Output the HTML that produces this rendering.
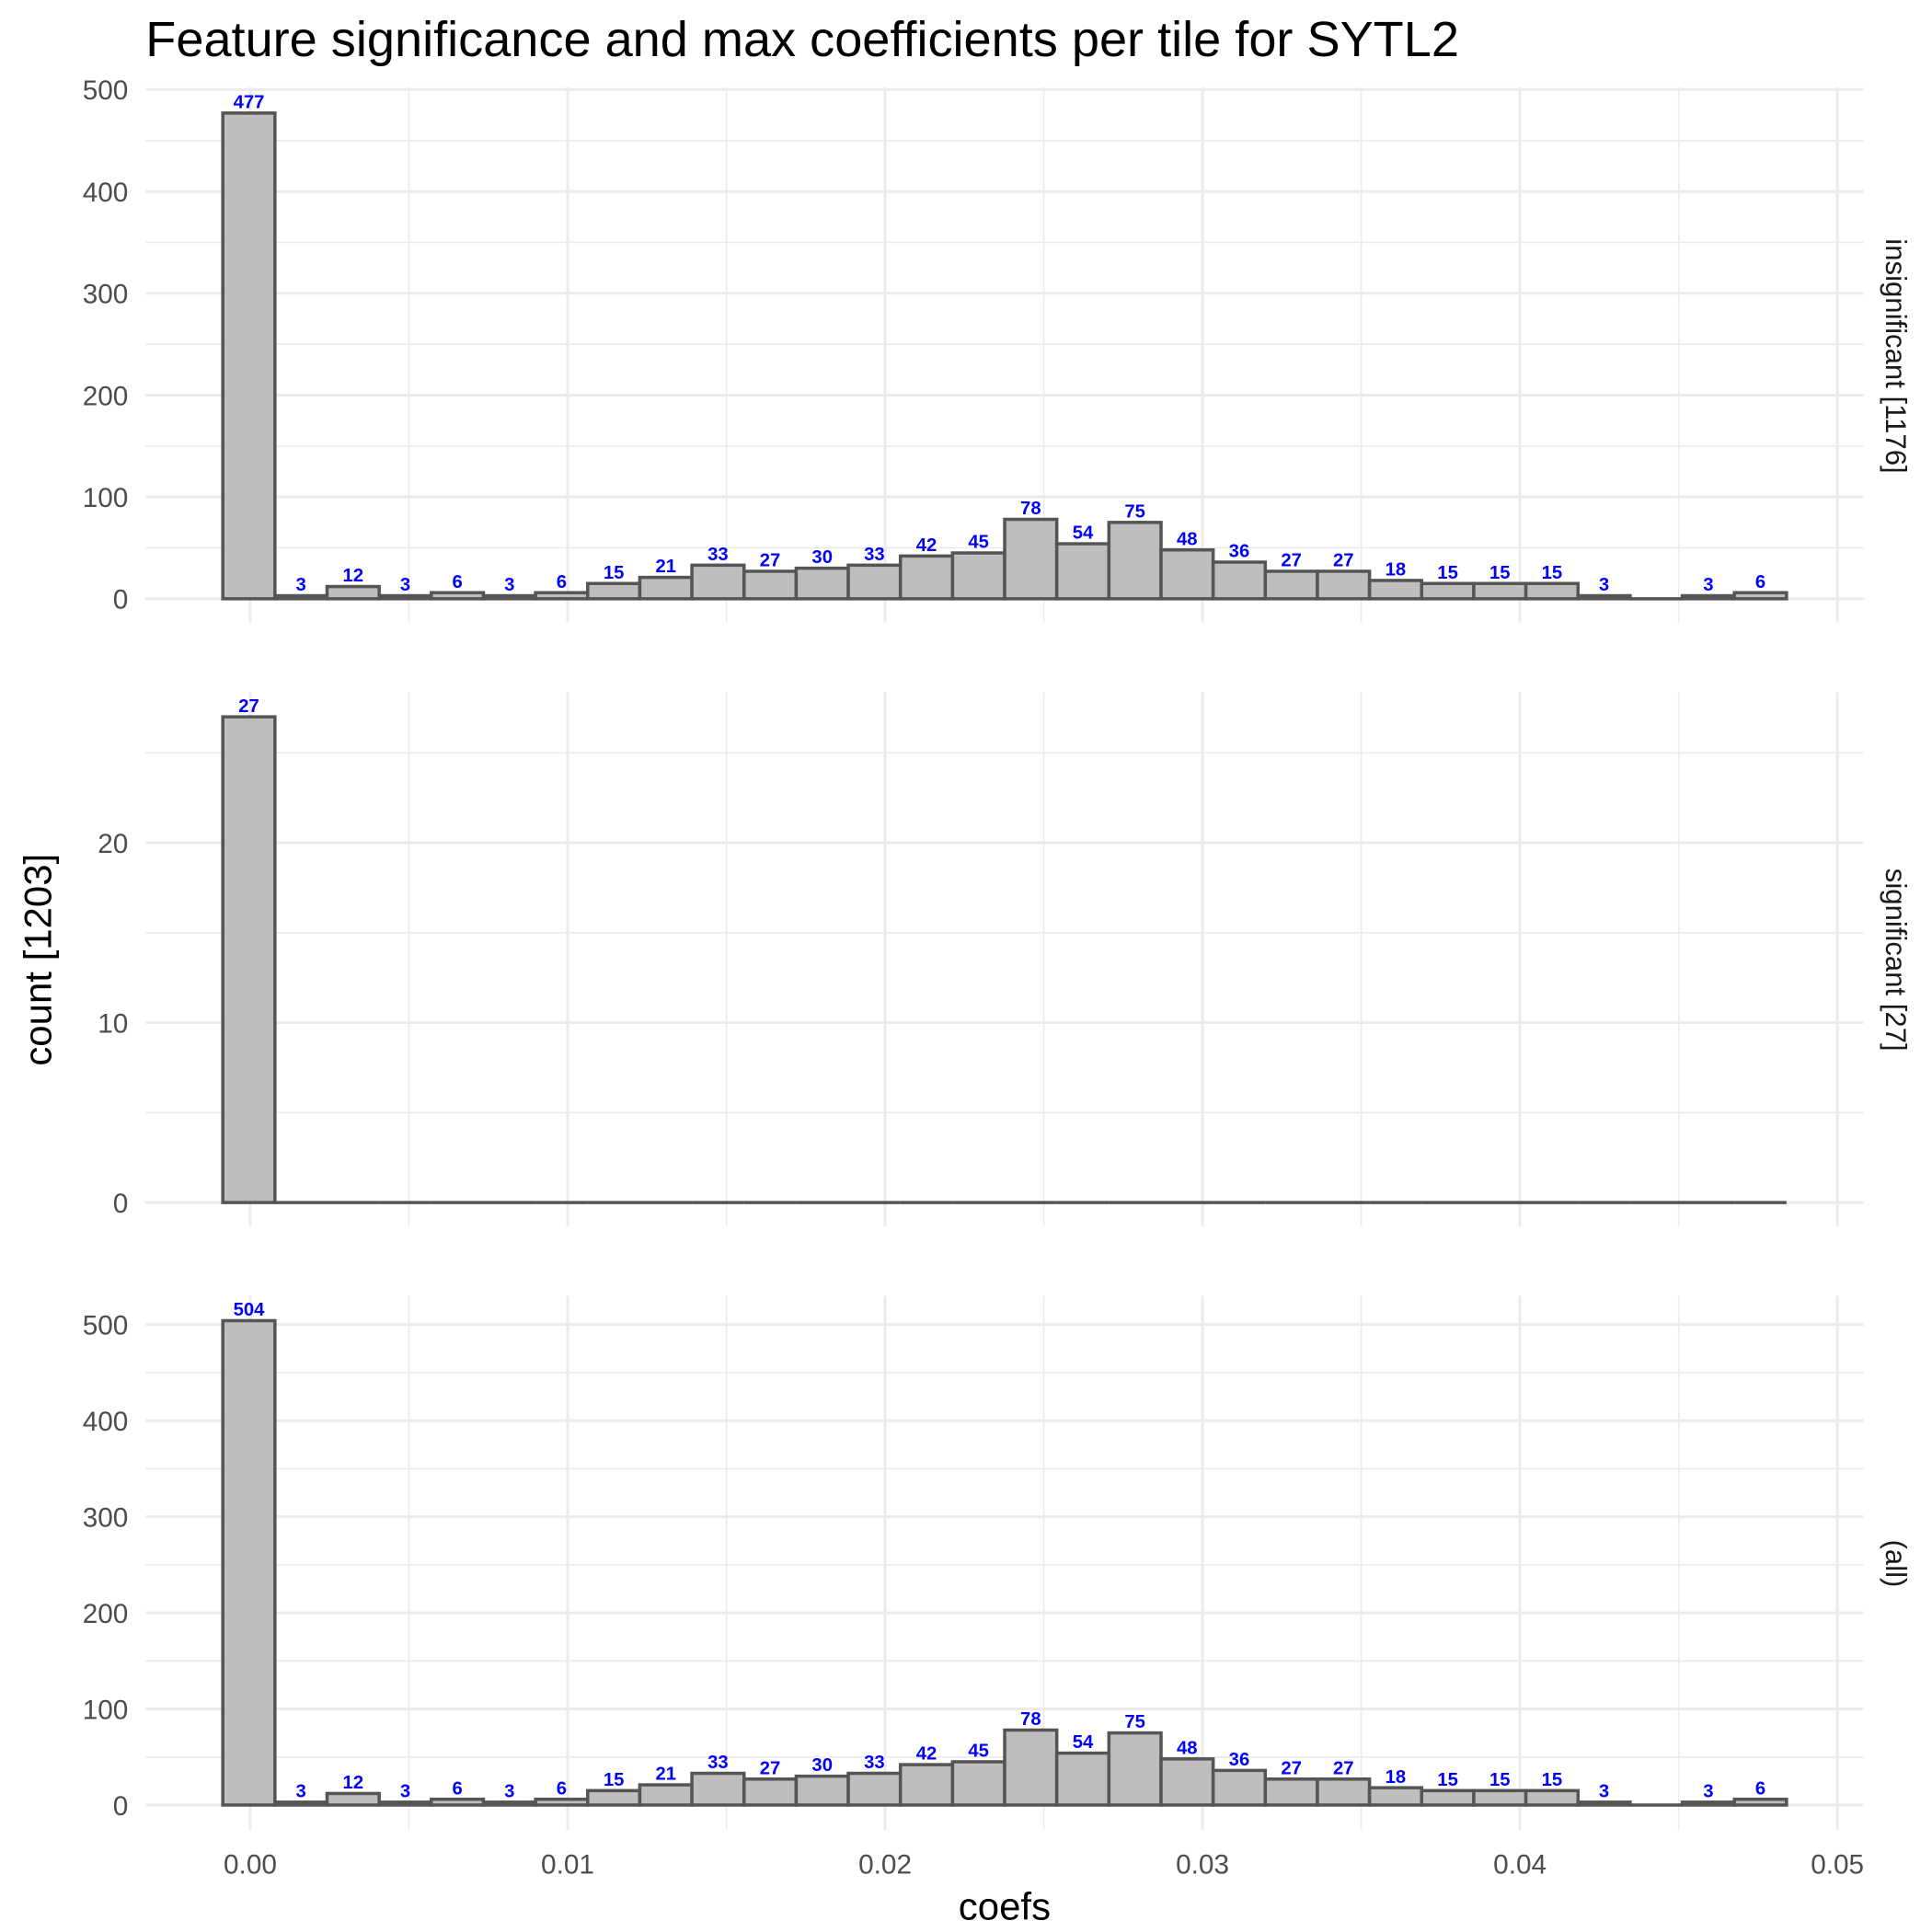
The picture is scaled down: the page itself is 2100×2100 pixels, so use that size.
<!DOCTYPE html>
<html><head><meta charset="utf-8"><style>body{margin:0;background:#fff}svg{display:block}text{font-family:"Liberation Sans",sans-serif}</style></head>
<body>
<svg id="chart" width="2100" height="2100" viewBox="0 0 1552 1552" xmlns="http://www.w3.org/2000/svg">
<rect width="1552" height="1552" fill="#fff"/>
<text x="117" y="45" font-size="40" fill="#000">Feature significance and max coefficients per tile for SYTL2</text>
<text x="807" y="1542" font-size="31" text-anchor="middle" fill="#000">coefs</text>
<text transform="translate(41,771) rotate(-90)" font-size="31" text-anchor="middle" fill="#000">count [1203]</text>
<g id="panels"></g>
</svg>
<script>
const countsInsig = [477,3,12,3,6,3,6,15,21,33,27,30,33,42,45,78,54,75,48,36,27,27,18,15,15,15,3,0,3,6];
const countsSig = [27,0,0,0,0,0,0,0,0,0,0,0,0,0,0,0,0,0,0,0,0,0,0,0,0,0,0,0,0,0];
const countsAll = [504,3,12,3,6,3,6,15,21,33,27,30,33,42,45,78,54,75,48,36,27,27,18,15,15,15,3,0,3,6];
const xTicks = [0,0.01,0.02,0.03,0.04,0.05];
const xTickLabels = ["0.00","0.01","0.02","0.03","0.04","0.05"];
const binStart = -0.000863, binWidth = 0.001642;
const yTicksInsig = [0,100,200,300,400,500];
const yTicksSig = [0,10,20];
const yTicksAll = [0,100,200,300,400,500];
const stripLabels = ["insignificant [1176]","significant [27]","(all)"];

const NS="http://www.w3.org/2000/svg";
const g=document.getElementById('panels');
const X=v=>201+(v/0.05)*(1476-201);
function el(t,a,p){const e=document.createElementNS(NS,t);for(const k in a)e.setAttribute(k,a[k]);(p||g).appendChild(e);return e;}
const panels=[
 {counts:countsInsig,ticks:yTicksInsig,minor:50,zero:481,yMaxVal:500,yMaxPx:72,ptop:70,pbot:500,strip:stripLabels[0],sy:286},
 {counts:countsSig,ticks:yTicksSig,minor:5,zero:966,yMaxVal:20,yMaxPx:677,ptop:556,pbot:985,strip:stripLabels[1],sy:771},
 {counts:countsAll,ticks:yTicksAll,minor:50,zero:1450,yMaxVal:500,yMaxPx:1064,ptop:1041,pbot:1470,strip:stripLabels[2],sy:1256}
];
panels.forEach((p,pi)=>{
 const Y=v=>p.zero-(v/p.yMaxVal)*(p.zero-p.yMaxPx);
 const pg=el('g',{});
 
 
 for(let v=p.minor; ; v+=p.minor*2){const y=Y(v);if(y<p.ptop)break;el('line',{x1:117,x2:1497,y1:y,y2:y,stroke:'#ebebeb','stroke-width':1.2},pg);}
 for(let i=0;i<xTicks.length-1;i++){const x=X((xTicks[i]+xTicks[i+1])/2);el('line',{x1:x,x2:x,y1:p.ptop,y2:p.pbot,stroke:'#ebebeb','stroke-width':1.2},pg);}
 p.ticks.forEach(v=>{const y=Y(v);el('line',{x1:117,x2:1497,y1:y,y2:y,stroke:'#ebebeb','stroke-width':2.2},pg);
  const t=el('text',{x:103,y:y+8,'font-size':22,'text-anchor':'end',fill:'#4d4d4d'},pg);t.textContent=v;
  
  });
 xTicks.forEach(v=>{const x=X(v);el('line',{x1:x,x2:x,y1:p.ptop,y2:p.pbot,stroke:'#ebebeb','stroke-width':2.2},pg);});
 p.counts.forEach((c,i)=>{
  const x0=X(binStart+i*binWidth),x1=X(binStart+(i+1)*binWidth);
  if(c>0){
   const r=el('rect',{x:x0,y:Y(c),width:x1-x0,height:p.zero-Y(c),fill:'#bebebe',stroke:'#555','stroke-width':2.6},pg);
   
   
   const t=el('text',{x:(x0+x1)/2,y:Y(c)-4,'font-size':15,'font-weight':'bold','text-anchor':'middle',fill:'#0000ff'},pg);t.textContent=c;
   
   
  } else {
   const l=el('line',{x1:x0,x2:x1,y1:p.zero,y2:p.zero,stroke:'#555','stroke-width':2.6},pg);
   
   
  }
 });
 const s=el('text',{transform:`translate(1515,${p.sy}) rotate(90)`,'font-size':23,'text-anchor':'middle',fill:'#1a1a1a'},pg);s.textContent=p.strip;
 
 
 if(pi===2){xTicks.forEach((v,i)=>{const t=el('text',{x:X(v),y:1505,'font-size':22,'text-anchor':'middle',fill:'#4d4d4d'},pg);t.textContent=xTickLabels[i];
  
  });}
});
</script>
</body></html>
